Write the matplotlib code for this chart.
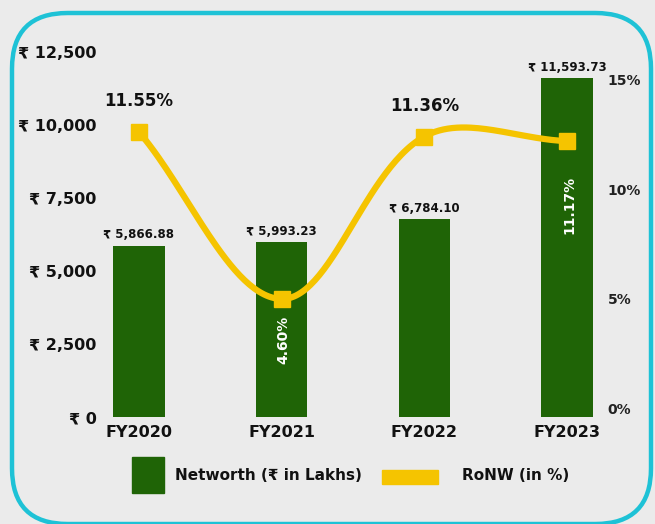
import numpy as np
import matplotlib.pyplot as plt
from matplotlib.patches import FancyBboxPatch, Rectangle

plt.rcParams['font.family'] = ['DejaVu Sans']

years = ["FY2020", "FY2021", "FY2022", "FY2023"]
networth = [5866.88, 5993.23, 6784.10, 11593.73]
ronw = [11.55, 4.60, 11.36, 11.17]
networth_labels = ["₹ 5,866.88", "₹ 5,993.23", "₹ 6,784.10", "₹ 11,593.73"]
ronw_labels = ["11.55%", "4.60%", "11.36%", "11.17%"]
left_ticks = [0, 2500, 5000, 7500, 10000, 12500]
left_ticklabels = ["₹ 0", "₹ 2,500", "₹ 5,000", "₹ 7,500", "₹ 10,000", "₹ 12,500"]
right_ticks = [0, 5, 10, 15]
right_ticklabels = ["0%", "5%", "10%", "15%"]

green = "#1f6406"
yellow = "#f5c400"
cyan = "#1ec2d6"
W, H = 655, 524


def fx(px):
    return px / W


def fy(py):
    return 1 - py / H


def spline(xs, ys, t=0.35, sx=143.0, sy=24.0):
    # chart.js style bezier smoothing in screen-like units
    P = np.column_stack([np.array(xs) * sx, np.array(ys) * sy])
    n = len(P)
    prev_c, next_c = [], []
    for i in range(n):
        a = P[max(i - 1, 0)]
        b = P[i]
        c = P[min(i + 1, n - 1)]
        d01 = np.hypot(*(b - a))
        d12 = np.hypot(*(c - b))
        tot = d01 + d12
        fa = t * d01 / tot if tot else 0
        fb = t * d12 / tot if tot else 0
        prev_c.append(b - fa * (c - a))
        next_c.append(b + fb * (c - a))
    out = []
    s = np.linspace(0, 1, 60)[:, None]
    for i in range(n - 1):
        p0, p1, p2, p3 = P[i], next_c[i], prev_c[i + 1], P[i + 1]
        seg = (1 - s) ** 3 * p0 + 3 * (1 - s) ** 2 * s * p1 + 3 * (1 - s) * s ** 2 * p2 + s ** 3 * p3
        out.append(seg)
    out = np.vstack(out)
    return out[:, 0] / sx, out[:, 1] / sy


fig = plt.figure(figsize=(6.55, 5.24), dpi=100)
fig.patch.set_facecolor("#ebebeb")

# rounded border
fig.patches.append(FancyBboxPatch((fx(12), fy(524)), fx(651) - fx(12), fy(13) - fy(524),
                                  boxstyle="round,pad=0,rounding_size=0.085",
                                  transform=fig.transFigure, fill=False,
                                  edgecolor=cyan, linewidth=3.2, mutation_aspect=W / H))

ax_l, ax_r = fx(105), fx(605)
ax_b, ax_t = fy(417), fy(52)
ax = fig.add_axes([ax_l, ax_b, ax_r - ax_l, ax_t - ax_b])
ax.set_facecolor("none")
x = np.arange(len(years))
ax.bar(x, networth, width=0.36, color=green, zorder=2)
ax.set_xlim(-0.238, 3.266)
ax.set_ylim(0, 12500)
ax.set_yticks(left_ticks)
ax.set_yticklabels(left_ticklabels, fontsize=11.5, fontweight="bold", color="#111111")
ax.set_xticks(x)
ax.set_xticklabels(years, fontsize=11.5, fontweight="bold", color="#111111")
ax.tick_params(length=0, pad=6)
ax.tick_params(axis="x", pad=6)
for s in ax.spines.values():
    s.set_visible(False)
for xi, v, lab in zip(x, networth, networth_labels):
    ax.text(xi, v + 150, lab, ha="center", va="bottom", fontsize=8.5, fontweight="bold", color="#111111")

# right tick labels
ax_rt = ax.twinx()
ax_rt.set_ylim(-0.41, 16.28)
ax_rt.set_yticks(right_ticks)
ax_rt.set_yticklabels(right_ticklabels, fontsize=10, fontweight="bold", color="#222222")
ax_rt.tick_params(length=0, pad=2)
for s in ax_rt.spines.values():
    s.set_visible(False)

# RoNW line
ax2 = ax.twinx()
ax2.set_ylim(-0.312, 14.877)
ax2.set_yticks([])
for s in ax2.spines.values():
    s.set_visible(False)
sx_, sy_ = spline(x, ronw)
ax2.plot(sx_, sy_, color=yellow, linewidth=4.5, solid_capstyle="butt", zorder=3)
ax2.plot(x, ronw, linestyle="none", marker="s", markersize=11, color=yellow, zorder=4)
for i in (0, 2):
    ax2.text(x[i], ronw[i] + 0.9, ronw_labels[i], ha="center", va="bottom", fontsize=12, fontweight="bold", color="#111111")
ax2.text(x[1] + 0.01, 2.9, ronw_labels[1], ha="center", va="center", rotation=90, fontsize=10,
         fontweight="bold", color="white")
ax2.text(x[3] + 0.02, 8.5, ronw_labels[3], ha="center", va="center", rotation=90, fontsize=10,
         fontweight="bold", color="white")

# legend
fig.patches.append(Rectangle((fx(132), fy(493)), fx(164) - fx(132), fy(457) - fy(493),
                             transform=fig.transFigure, color=green))
fig.text(fx(175), fy(476), "Networth (₹ in Lakhs)", fontsize=11, fontweight="bold", va="center", color="#111111")
fig.patches.append(Rectangle((fx(382), fy(484)), fx(438) - fx(382), fy(470) - fy(484),
                             transform=fig.transFigure, color=yellow))
fig.text(fx(462), fy(476), "RoNW (in %)", fontsize=11, fontweight="bold", va="center", color="#111111")

fig.savefig("out.png", dpi=100, facecolor=fig.get_facecolor())
